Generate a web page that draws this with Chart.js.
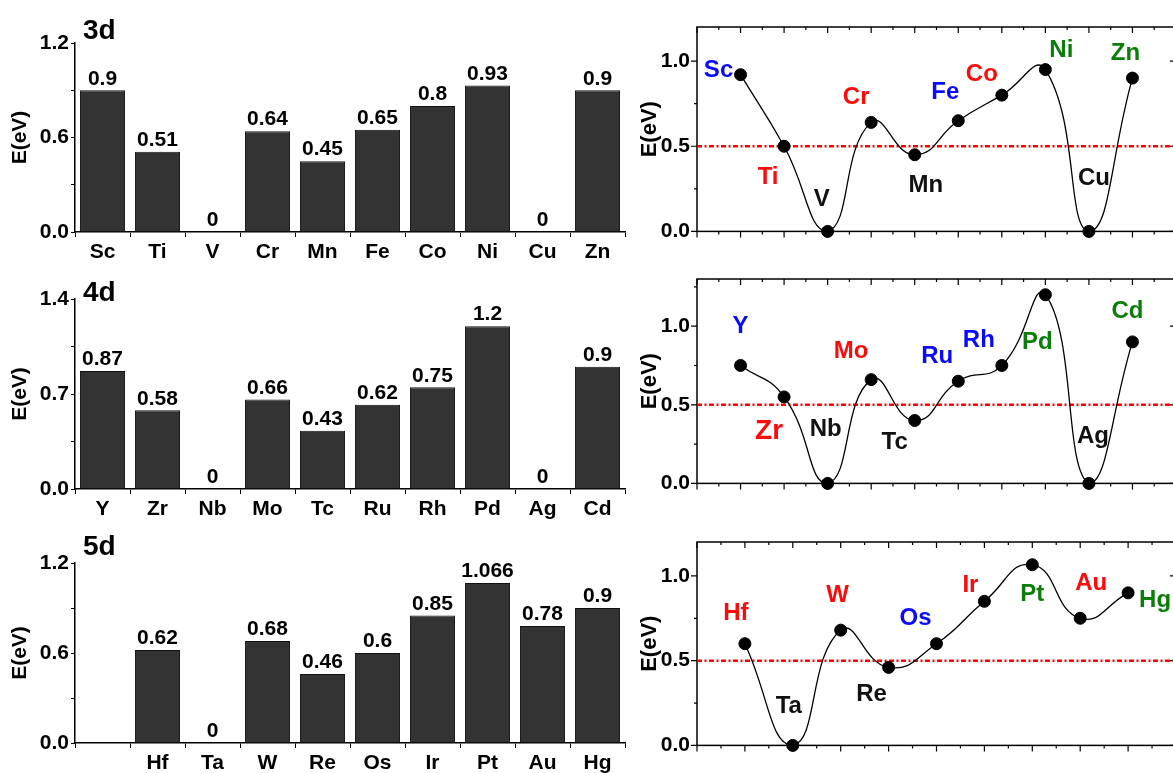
<!DOCTYPE html>
<html>
<head>
<meta charset="utf-8">
<script src="https://cdn.jsdelivr.net/npm/chart.js@4.4.0/dist/chart.umd.min.js"></script>
<style>
  html, body { margin: 0; padding: 0; background: #fff; width: 1173px; height: 773px; overflow: hidden; position: relative; }
  canvas { position: absolute; }
</style>
</head>
<body>
<canvas id="bar3d" width="630" height="259" style="left:0;top:3px"></canvas>
<canvas id="bar4d" width="630" height="260" style="left:0;top:259px"></canvas>
<canvas id="bar5d" width="630" height="250" style="left:0;top:523px"></canvas>
<canvas id="curve3d" width="560" height="247" style="left:630px;top:0"></canvas>
<canvas id="curve4d" width="560" height="249" style="left:630px;top:250px"></canvas>
<canvas id="curve5d" width="560" height="251" style="left:630px;top:510px"></canvas>
<script>
// --- data ---
const elements3d = ['Sc', 'Ti', 'V', 'Cr', 'Mn', 'Fe', 'Co', 'Ni', 'Cu', 'Zn'];
const bars3d = [0.9, 0.51, 0, 0.64, 0.45, 0.65, 0.8, 0.93, 0, 0.9];
const curve3d = [0.92, 0.5, 0, 0.64, 0.45, 0.65, 0.8, 0.95, 0, 0.9];

const elements4d = ['Y', 'Zr', 'Nb', 'Mo', 'Tc', 'Ru', 'Rh', 'Pd', 'Ag', 'Cd'];
const bars4d = [0.87, 0.58, 0, 0.66, 0.43, 0.62, 0.75, 1.2, 0, 0.9];
const curve4d = [0.75, 0.55, 0, 0.66, 0.40, 0.65, 0.75, 1.2, 0, 0.9];

const elements5d = ['Hf', 'Ta', 'W', 'Re', 'Os', 'Ir', 'Pt', 'Au', 'Hg'];
const bars5d = [0.62, 0, 0.68, 0.46, 0.6, 0.85, 1.066, 0.78, 0.9];
const curve5d = [0.6, 0, 0.68, 0.46, 0.6, 0.85, 1.066, 0.75, 0.9];

const threshold = 0.5;

// label colours on the right-hand curves
const colors3d = ['blue', 'red', 'black', 'red', 'black', 'blue', 'red', 'green', 'black', 'green'];
const colors4d = ['blue', 'red', 'black', 'red', 'black', 'blue', 'blue', 'green', 'black', 'green'];
const colors5d = ['red', 'black', 'red', 'black', 'blue', 'red', 'green', 'red', 'green'];

// where each element name sits relative to its point (px)
const offsets3d = [[-22, -4], [-16, 31], [-6, -32], [-15, -25], [11, 31], [-13, -28], [-20, -21], [16, -19], [5, -53], [-7, -25]];
const offsets4d = [[0, -39], [-15, 34, 28], [-2, -54], [-20, -28], [-20, 22], [-21, -25], [-23, -25], [-8, 48], [4, -47], [-5, -31]];
const offsets5d = [[-9, -30], [-4, -39], [-3, -35], [-17, 27], [-21, -25], [-14, -16], [0, 30], [11, -35], [27, 8]];

const palette = { blue: '#0a0aff', red: '#ff0a0a', green: '#0b7d0b', black: '#111' };
const FONT = '"Liberation Sans", Arial, sans-serif';

Chart.defaults.font.family = FONT;
Chart.defaults.font.weight = 'bold';
Chart.defaults.color = '#000';

const barValuePlugin = {
  id: 'barValues',
  afterDatasetsDraw(chart) {
    const ctx = chart.ctx;
    const meta = chart.getDatasetMeta(0);
    const values = chart.data.datasets[0].data;
    ctx.save();
    ctx.font = 'bold 21px ' + FONT;
    ctx.fillStyle = '#000';
    ctx.textAlign = 'center';
    ctx.textBaseline = 'bottom';
    meta.data.forEach((bar, i) => {
      if (values[i] === null) return;
      ctx.fillText(String(values[i]), bar.x, bar.y - 1);
    });
    ctx.restore();
  }
};

function panelName(text, dy) {
  return {
    id: 'panelName',
    afterDraw(chart) {
      const ctx = chart.ctx;
      ctx.save();
      ctx.font = 'bold 28px ' + FONT;
      ctx.fillStyle = '#000';
      ctx.textBaseline = 'middle';
      ctx.fillText(text, chart.chartArea.left + 8, chart.chartArea.top + dy);
      ctx.restore();
    }
  };
}

function barChart(id, labels, values, yMax, yStep, name, nameDy) {
  new Chart(document.getElementById(id), {
    type: 'bar',
    data: {
      labels: labels,
      datasets: [{
        data: values,
        backgroundColor: '#333333',
        borderColor: '#111111',
        borderWidth: 1,
        barPercentage: 0.82,
        categoryPercentage: 1
      }]
    },
    options: {
      responsive: false,
      animation: false,
      layout: { padding: { top: 40, right: 5 } },
      plugins: { legend: { display: false }, tooltip: { enabled: false } },
      scales: {
        x: {
          grid: { offset: true, drawOnChartArea: false, color: '#000', tickLength: 5 },
          border: { color: '#000', width: 1.5 },
          ticks: { font: { size: 21 }, color: '#000', padding: 3, maxRotation: 0, autoSkip: false },
          afterFit: s => { s.height = 30; }
        },
        y: {
          min: 0,
          max: yMax,
          ticks: {
            stepSize: yStep,
            font: { size: 21 },
            color: '#000',
            padding: 2,
            callback: (v, i) => (i % 2 === 0 ? v.toFixed(1) : '')
          },
          grid: { drawOnChartArea: false, color: '#000', tickLength: 4 },
          border: { color: '#000', width: 1.5 },
          title: { display: true, text: 'E(eV)', font: { size: 21 }, color: '#000', padding: { top: 8, bottom: 0 } },
          afterFit: s => { s.width = 75; }
        }
      }
    },
    plugins: [barValuePlugin, panelName(name, nameDy)]
  });
}

function framePlugin() {
  return {
    id: 'frame',
    beforeDatasetsDraw(chart) {
      const { ctx, chartArea: a, scales } = chart;
      const x = scales.x, y = scales.y;
      ctx.save();
      ctx.strokeStyle = '#000';
      ctx.lineWidth = 1.5;
      ctx.strokeRect(a.left, a.top, a.right - a.left, a.bottom - a.top);
      ctx.lineWidth = 1.2;
      ctx.beginPath();
      for (let k = 0; k <= x.max * 2; k++) {
        const px = x.getPixelForValue(k / 2);
        const len = k % 2 === 0 ? 6 : 3;
        ctx.moveTo(px, a.bottom); ctx.lineTo(px, a.bottom + len);
        ctx.moveTo(px, a.top); ctx.lineTo(px, a.top + len);
      }
      for (let k = 0; k <= Math.floor(y.max * 4 + 1e-6); k++) {
        const py = y.getPixelForValue(k / 4);
        const len = k % 2 === 0 ? 6 : 3;
        ctx.moveTo(a.left, py); ctx.lineTo(a.left - len, py);
        ctx.moveTo(a.right, py); ctx.lineTo(a.right - len, py);
      }
      ctx.stroke();
      ctx.restore();
    }
  };
}

function namesPlugin(names, colors, offsets) {
  return {
    id: 'elementNames',
    afterDatasetsDraw(chart) {
      const ctx = chart.ctx;
      const meta = chart.getDatasetMeta(0);
      ctx.save();
      ctx.textAlign = 'center';
      ctx.textBaseline = 'middle';
      names.forEach((name, i) => {
        const pt = meta.data[i];
        const off = offsets[i];
        ctx.font = 'bold ' + (off[2] || 24) + 'px ' + FONT;
        ctx.fillStyle = palette[colors[i]];
        ctx.fillText(name, pt.x + off[0], pt.y + off[1]);
      });
      ctx.restore();
    }
  };
}

function curveChart(id, names, values, colors, offsets, yMax, padTop) {
  const xMax = names.length + 1;
  const points = values.map((v, i) => ({ x: i + 1, y: v }));
  new Chart(document.getElementById(id), {
    type: 'line',
    data: {
      datasets: [
        { data: points, showLine: false, pointRadius: 6, pointBackgroundColor: '#000', pointBorderColor: '#000', clip: false },
        { data: points, borderColor: '#000', borderWidth: 1.3, tension: 0.5, pointRadius: 0, fill: false },
        {
          data: [{ x: 0, y: threshold }, { x: xMax, y: threshold }],
          borderColor: '#ff0000', borderWidth: 2.5, borderDash: [5, 2.5, 2, 2.5], pointRadius: 0, tension: 0
        }
      ]
    },
    options: {
      responsive: false,
      animation: false,
      layout: { padding: { top: padTop, right: 14 } },
      plugins: { legend: { display: false }, tooltip: { enabled: false } },
      scales: {
        x: {
          type: 'linear', min: 0, max: xMax,
          ticks: { display: false },
          grid: { display: false },
          border: { display: false },
          afterFit: s => { s.height = 12; }
        },
        y: {
          min: 0, max: yMax,
          ticks: {
            stepSize: 0.25,
            font: { size: 21 },
            color: '#000',
            padding: 3,
            callback: v => (Math.abs(v * 2 - Math.round(v * 2)) < 1e-6 ? v.toFixed(1) : '')
          },
          grid: { display: false, tickLength: 4 },
          border: { display: false },
          title: { display: true, text: 'E(eV)', font: { size: 22 }, color: '#000', padding: { top: 7, bottom: 0 } },
          afterFit: s => { s.width = 67; }
        }
      }
    },
    plugins: [framePlugin(), namesPlugin(names, colors, offsets)]
  });
}

barChart('bar3d', elements3d, bars3d, 1.2, 0.3, '3d', -12);
barChart('bar4d', elements4d, bars4d, 1.4, 0.35, '4d', -6);
barChart('bar5d', [''].concat(elements5d), [null].concat(bars5d), 1.2, 0.3, '5d', -16);

curveChart('curve3d', elements3d, curve3d, colors3d, offsets3d, 1.2, 27);
curveChart('curve4d', elements4d, curve4d, colors4d, offsets4d, 1.3, 29);
curveChart('curve5d', elements5d, curve5d, colors5d, offsets5d, 1.2, 32);
</script>
</body>
</html>
